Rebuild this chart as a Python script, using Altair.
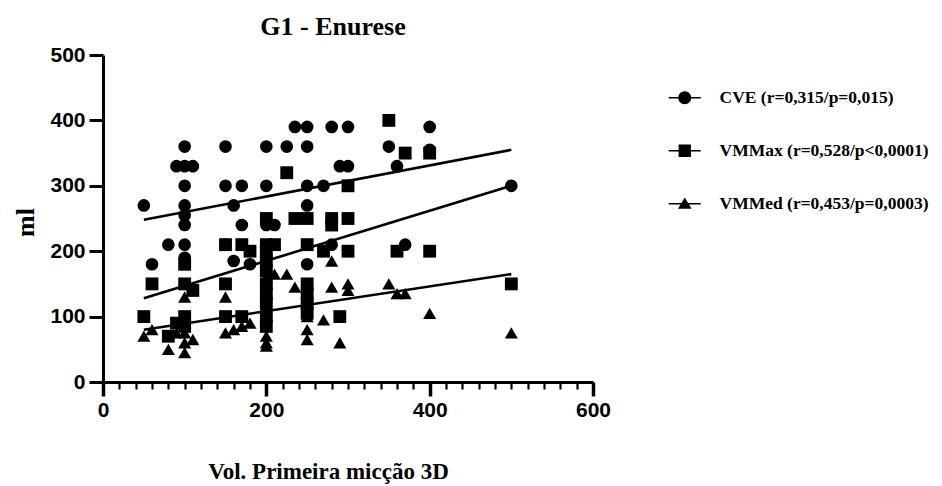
import altair as alt
import pandas as pd

series_names = ["CVE (r=0,315/p=0,015)", "VMMax (r=0,528/p<0,0001)", "VMMed (r=0,453/p=0,0003)"]

cve_x = [50, 60, 80, 90, 100, 100, 100, 100, 100, 100, 100, 100, 110, 150, 150, 150, 160, 160, 170, 170,
         180, 200, 200, 200, 210, 225, 235, 250, 250, 250, 250, 250, 270, 280, 280, 290, 300, 300, 350, 360,
         370, 400, 400, 500]
cve_y = [270, 180, 210, 330, 360, 330, 300, 270, 255, 240, 210, 190, 330, 360, 300, 210, 270, 185, 300, 240,
         180, 360, 300, 240, 240, 360, 390, 390, 360, 300, 270, 180, 300, 390, 210, 330, 390, 330, 360, 330,
         210, 390, 355, 300]

vmmax_x = [50, 60, 80, 90, 100, 100, 100, 100, 110, 150, 150, 150, 170, 170, 180, 200, 200, 200, 200, 200,
           200, 200, 200, 200, 200, 210, 225, 235, 250, 250, 250, 250, 250, 250, 270, 280, 280, 290, 300, 300,
           300, 350, 360, 370, 400, 400, 500]
vmmax_y = [100, 150, 70, 90, 180, 150, 100, 85, 140, 210, 150, 100, 210, 100, 200, 250, 210, 200, 185, 170,
           150, 135, 120, 100, 85, 210, 320, 250, 250, 210, 150, 135, 120, 105, 200, 250, 240, 100, 300, 250,
           200, 400, 200, 350, 350, 200, 150]

vmmed_x = [50, 60, 80, 90, 100, 100, 100, 100, 110, 150, 150, 160, 170, 180, 200, 200, 200, 200, 200, 200,
           210, 225, 235, 250, 250, 250, 250, 270, 280, 280, 290, 300, 300, 350, 360, 370, 400, 500]
vmmed_y = [70, 80, 50, 75, 130, 75, 60, 45, 65, 130, 75, 80, 85, 90, 160, 130, 110, 70, 60, 55,
           165, 165, 145, 130, 100, 80, 65, 95, 185, 145, 60, 150, 140, 150, 135, 135, 105, 75]

# fitted regression lines (end points)
fit_x = [50, 500]
cve_fit = [248, 355]
vmmax_fit = [128, 300]
vmmed_fit = [80, 165]

x_ticks = list(range(0, 601, 20))
y_ticks = [0, 100, 200, 300, 400, 500]

pts = pd.concat([
    pd.DataFrame({"x": cve_x, "y": cve_y, "serie": series_names[0]}),
    pd.DataFrame({"x": vmmax_x, "y": vmmax_y, "serie": series_names[1]}),
    pd.DataFrame({"x": vmmed_x, "y": vmmed_y, "serie": series_names[2]}),
], ignore_index=True)

fits = pd.concat([
    pd.DataFrame({"x": fit_x, "y": cve_fit, "serie": series_names[0]}),
    pd.DataFrame({"x": fit_x, "y": vmmax_fit, "serie": series_names[1]}),
    pd.DataFrame({"x": fit_x, "y": vmmed_fit, "serie": series_names[2]}),
], ignore_index=True)

x_enc = alt.X(
    "x:Q",
    scale=alt.Scale(domain=[0, 600], nice=False),
    axis=alt.Axis(
        values=x_ticks,
        title="Vol. Primeira micção 3D",
        labelExpr="datum.value % 200 === 0 ? datum.label : ''",
        labelOverlap=False,
        labelFlush=False,
        labelBound=False,
        tickSize={"condition": {"test": "datum.value % 200 === 0", "value": 14}, "value": 7},
        tickWidth={"condition": {"test": "datum.value % 200 === 0", "value": 3.5}, "value": 2.2},
        labelPadding=3,
        titleX=225,
        titleY=96,
        titleBaseline="alphabetic",
        titleFont="Liberation Serif",
        titleFontSize=23,
        titleFontWeight="bold",
    ),
)
y_enc = alt.Y(
    "y:Q",
    scale=alt.Scale(domain=[0, 500], nice=False),
    axis=alt.Axis(
        values=y_ticks,
        title="ml",
        tickSize=14,
        tickWidth=3,
        labelPadding=4,
        labelOverlap=False,
        labelFlush=False,
        titleAngle=270,
        titleX=-70,
        titleY=167,
        titleAlign="center",
        titleBaseline="alphabetic",
        titleFont="Liberation Serif",
        titleFontSize=26,
        titleFontWeight="bold",
    ),
)

points = alt.Chart(pts).mark_point(filled=True, opacity=1, color="black").encode(
    x=x_enc,
    y=y_enc,
    shape=alt.Shape("serie:N", scale=alt.Scale(domain=series_names,
                                                range=["circle", "square", "triangle-up"]), legend=None),
    size=alt.Size("serie:N", scale=alt.Scale(domain=series_names, range=[160, 170, 180]), legend=None),
)

lines = alt.Chart(fits).mark_line(color="black", strokeWidth=2.6).encode(
    x=x_enc,
    y=y_enc,
    detail="serie:N",
)

bar = "M-2.46,-0.13H2.46V0.13H-2.46Z "
legend_paths = [
    bar + "M0,-1A1,1,0,1,1,0,1A1,1,0,1,1,0,-1Z",
    bar + "M-0.95,-0.95H0.95V0.95H-0.95Z",
    bar + "M0,-0.95L1.05,0.75L-1.05,0.75Z",
]

legend_layer = alt.Chart(fits).mark_point(filled=True, opacity=0, color="black").encode(
    x=x_enc,
    y=y_enc,
    shape=alt.Shape(
        "serie:N",
        scale=alt.Scale(domain=series_names, range=legend_paths),
        legend=alt.Legend(
            title=None,
            orient="none",
            legendX=573,
            legendY=34,
            symbolSize=169,
            symbolOpacity=1,
            symbolFillColor="black",
            symbolStrokeColor="black",
            symbolStrokeWidth=0,
            labelFont="Liberation Serif",
            labelFontWeight="bold",
            labelFontSize=17.5,
            labelColor="black",
            labelOffset=26,
            labelLimit=400,
            rowPadding=34,
        ),
    ),
)

chart = alt.layer(points, lines, legend_layer).resolve_scale(shape="independent", size="independent").properties(
    width=490,
    height=327,
    background="white",
    title=alt.TitleParams(
        "G1 - Enurese",
        font="Liberation Serif",
        fontSize=26,
        fontWeight="bold",
        color="black",
        anchor="middle",
        dx=-15,
        offset=4,
    ),
    autosize=alt.AutoSizeParams(type="none"),
    padding={"left": 103, "top": 55, "right": 349, "bottom": 104},
).configure_view(stroke=None).configure_axis(
    grid=False,
    domainColor="black",
    domainWidth=3,
    tickColor="black",
    labelFont="Liberation Sans",
    labelFontWeight="bold",
    labelFontSize=21,
    labelColor="black",
    labelOverlap=False,
    titleColor="black",
)

chart.save("out.html", embed_options={"renderer": "svg", "actions": False})
